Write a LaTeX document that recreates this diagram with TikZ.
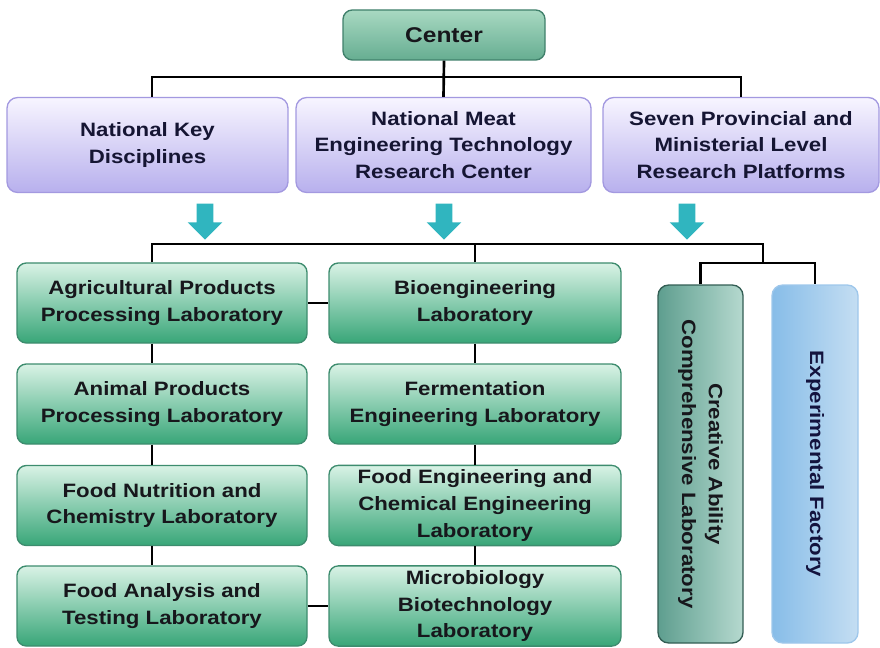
\documentclass[tikz,border=0pt]{standalone}
\usepackage{fontspec}
\setmainfont{Liberation Sans}[FakeStretch=1.15]
\usepackage{tikz}
\usetikzlibrary{shapes.arrows, calc}
\definecolor{hubtop}{rgb}{0.66, 0.85, 0.76}
\definecolor{hubbot}{rgb}{0.40, 0.68, 0.57}
\definecolor{hubline}{rgb}{0.25, 0.50, 0.42}
\definecolor{platop}{rgb}{0.97, 0.96, 1.00}
\definecolor{plabot}{rgb}{0.72, 0.69, 0.93}
\definecolor{plaline}{rgb}{0.64, 0.60, 0.88}
\definecolor{labtop}{rgb}{0.85, 0.95, 0.90}
\definecolor{labbot}{rgb}{0.22, 0.65, 0.47}
\definecolor{labline}{rgb}{0.24, 0.55, 0.43}
\definecolor{creleft}{rgb}{0.37, 0.62, 0.56}
\definecolor{creright}{rgb}{0.71, 0.85, 0.81}
\definecolor{creline}{rgb}{0.20, 0.37, 0.33}
\definecolor{facleft}{rgb}{0.53, 0.74, 0.91}
\definecolor{facright}{rgb}{0.77, 0.87, 0.95}
\definecolor{facline}{rgb}{0.62, 0.78, 0.92}
\definecolor{flowteal}{rgb}{0.19, 0.71, 0.75}
\definecolor{inktext}{rgb}{0.09, 0.09, 0.11}
\tikzstyle{hub} = [rectangle, rounded corners=7pt, minimum width=151.5pt, minimum height=37.5pt, draw=hubline, line width=1pt, top color=hubtop, bottom color=hubbot, text=inktext, font=\fontsize{16}{20}\selectfont\bfseries]
\tikzstyle{platform} = [rectangle, rounded corners=8pt, minimum height=71.25pt, align=center, draw=plaline, line width=1pt, top color=platop, bottom color=plabot, text=inktext!90!blue, font=\fontsize{14.5}{20}\selectfont\bfseries]
\tikzstyle{lab} = [rectangle, rounded corners=7pt, minimum height=60pt, align=center, draw=labline, line width=1pt, top color=labtop, bottom color=labbot, text=inktext, font=\fontsize{14.5}{20}\selectfont\bfseries]
\tikzstyle{tower} = [rectangle, rounded corners=8pt, minimum height=268.5pt, line width=1pt]
\tikzstyle{flow} = [single arrow, fill=flowteal, draw=none, shape border rotate=270, minimum height=27pt, inner sep=6pt, single arrow head extend=6.75pt, single arrow tip angle=90]
\tikzstyle{link} = [line width=2pt, black]

\begin{document}
\begin{tikzpicture}[x=0.75pt, y=-0.75pt]
    \useasboundingbox (0,0) rectangle (880,648);
    % top of the tree and the three platforms
    \node[hub] (center) at (444,35) {Center};
    \node[platform, minimum width=210.75pt] (nkd) at (147.5,145) {National Key\\Disciplines};
    \node[platform, minimum width=221.25pt] (nmc) at (443.5,145) {National Meat\\Engineering Technology\\Research Center};
    \node[platform, minimum width=207pt] (spr) at (741,145) {Seven Provincial and\\Ministerial Level\\Research Platforms};
    \node[flow] (flowA) at (205,217.5) {};
    \node[flow] (flowB) at (444,217.5) {};
    \node[flow] (flowC) at (687,217.5) {};

    % laboratories, two columns
    \node[lab, minimum width=217.5pt] (agri) at (162,303) {Agricultural Products\\Processing Laboratory};
    \node[lab, minimum width=217.5pt] (animal) at (162,404) {Animal Products\\Processing Laboratory};
    \node[lab, minimum width=217.5pt] (nutrition) at (162,505.5) {Food Nutrition and\\Chemistry Laboratory};
    \node[lab, minimum width=217.5pt] (analysis) at (162,606) {Food Analysis and\\Testing Laboratory};
    \node[lab, minimum width=219pt] (bio) at (475,303) {Bioengineering\\Laboratory};
    \node[lab, minimum width=219pt] (ferm) at (475,404) {Fermentation\\Engineering Laboratory};
    \node[lab, minimum width=219pt] (foodeng) at (475,505.5) {Food Engineering and\\Chemical Engineering\\Laboratory};
    \node[lab, minimum width=219pt] (micro) at (475,606) {Microbiology\\Biotechnology\\Laboratory};

    % the two tall boxes on the right
    \node[tower, minimum width=63.75pt, draw=creline, left color=creleft, right color=creright] (creative) at (700.5,464) {};
    \node[tower, minimum width=64.5pt, draw=facline, left color=facleft, right color=facright] (factory) at (815,464) {};
    \node[rotate=-90, align=center, text=inktext, font=\fontsize{14.5}{20}\selectfont\bfseries] (creativetext) at (creative.center) {Creative Ability\\Comprehensive Laboratory};
    \node[rotate=-90, text=inktext!85!blue, font=\fontsize{14.5}{20}\selectfont\bfseries] (factorytext) at (factory.center) {Experimental Factory};

    % connectors
    \coordinate (spine) at (152,0);
    \coordinate (topbus) at (0,77);
    \coordinate (lowbus) at (0,244);
    \coordinate (fork) at (763,263);
    \draw[link] (center.south) -- (nmc.north);
    \draw[link] (spine |- nkd.north) -- (spine |- topbus) -| (spr.north);
    \draw[link] (spine |- agri.north) -- (spine |- lowbus) -| (fork);
    \draw[link] (bio.north) -- (bio.north |- lowbus);
    \draw[link] (creative.north) |- (fork) -| (factory.north);
    \foreach \a/\b in {agri/animal, animal/nutrition, nutrition/analysis}
        \draw[link] (spine |- \a.south) -- (spine |- \b.north);
    \foreach \a/\b in {bio/ferm, ferm/foodeng, foodeng/micro}
        \draw[link] (\a.south) -- (\b.north);
    \draw[link] (agri.east) -- (bio.west);
    \draw[link] (analysis.east) -- (micro.west);
\end{tikzpicture}
\end{document}
